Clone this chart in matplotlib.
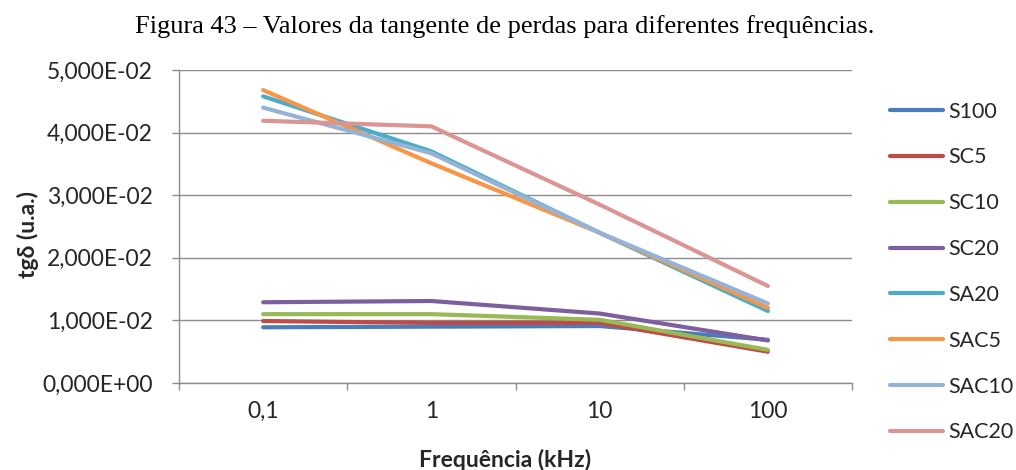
import matplotlib
matplotlib.use("Agg")
import matplotlib.pyplot as plt
from matplotlib.ticker import FixedLocator, FuncFormatter

categories = ["0,1", "1", "10", "100"]
series_names = ["S100", "SC5", "SC10", "SC20", "SA20", "SAC5", "SAC10", "SAC20"]
S100 = [0.0089, 0.0090, 0.0091, 0.0069]
SC5 = [0.0099, 0.0096, 0.0096, 0.0050]
SC10 = [0.0110, 0.0110, 0.0101, 0.0053]
SC20 = [0.0129, 0.0131, 0.0111, 0.0068]
SA20 = [0.0458, 0.0370, 0.0240, 0.0115]
SAC5 = [0.0468, 0.0351, 0.0240, 0.0120]
SAC10 = [0.0440, 0.0367, 0.0240, 0.0127]
SAC20 = [0.0419, 0.0410, 0.0285, 0.0155]
colors = ["#4A7EBB", "#BE4B48", "#98B954", "#7D5FA0", "#4BACC6", "#F79646", "#95B3D7", "#D99694"]
yticks = [0, 0.01, 0.02, 0.03, 0.04, 0.05]

sans = ["Lato", "DejaVu Sans"]
fs = 16.5
tc = "#262626"
fig = plt.figure(figsize=(10.16, 4.70), dpi=100)
ax = fig.add_axes([0.1762, 0.1851, 0.8386 - 0.1762, 0.851 - 0.1851])

x = list(range(len(categories)))
for name, vals, c in zip(series_names, [S100, SC5, SC10, SC20, SA20, SAC5, SAC10, SAC20], colors):
    ax.plot(x, vals, color=c, lw=3, label=name, solid_capstyle="round", solid_joinstyle="round")

ax.set_xlim(-0.5, len(categories) - 0.5)
ax.set_ylim(0, 0.05)
gc = "#8C8C8C"
ax.set_yticks(yticks)
ax.yaxis.set_major_formatter(FuncFormatter(lambda v, p: f"{v:.3E}".replace(".", ",")))
ax.set_xticks(x)
ax.set_xticklabels(categories)
ax.xaxis.set_minor_locator(FixedLocator([i - 0.5 for i in range(len(categories) + 1)]))
ax.tick_params(axis="x", which="major", length=0, pad=13)
ax.tick_params(axis="x", which="minor", length=5, color=gc, width=1, direction="out")
ax.tick_params(axis="y", length=5, color=gc, width=1, direction="out", pad=14)
for lab in ax.get_xticklabels() + ax.get_yticklabels():
    lab.set_family(sans)
    lab.set_fontsize(fs)
    lab.set_color(tc)
ax.grid(axis="y", color=gc, lw=1)
ax.set_axisbelow(True)
for s in ["top", "right"]:
    ax.spines[s].set_visible(False)
for s in ["left", "bottom"]:
    ax.spines[s].set_color(gc)
    ax.spines[s].set_linewidth(1)

ax.set_xlabel("Frequência (kHz)", family=sans, fontsize=fs, fontweight="bold", color=tc)
ax.xaxis.set_label_coords(0.5, (470 - 460) / 470, transform=fig.transFigure)
ax.xaxis.label.set_va("center")
ax.set_ylabel("tgδ (u.a.)", family=sans, fontsize=fs, fontweight="bold", color=tc)
ax.yaxis.set_label_coords(28 / 1016, 0.5, transform=fig.transFigure)
ax.yaxis.label.set_va("center")
ax.xaxis.label.set_position((505 / 1016, (470 - 460) / 470))

leg = ax.legend(loc="center left", bbox_to_anchor=(890 / 1016, 1 - 272 / 470),
                bbox_transform=fig.transFigure, frameon=False,
                prop={"family": sans, "size": 15.5}, handlelength=2.45, handletextpad=0.24,
                labelspacing=1.2, borderaxespad=0, borderpad=0)
for t in leg.get_texts():
    t.set_color(tc)

fig.text(505 / 1016, 1 - 27 / 470, "Figura 43 – Valores da tangente de perdas para diferentes frequências.",
         family=["Liberation Serif", "DejaVu Serif"], fontsize=19, ha="center", va="center")

fig.savefig("out.png", dpi=100)
